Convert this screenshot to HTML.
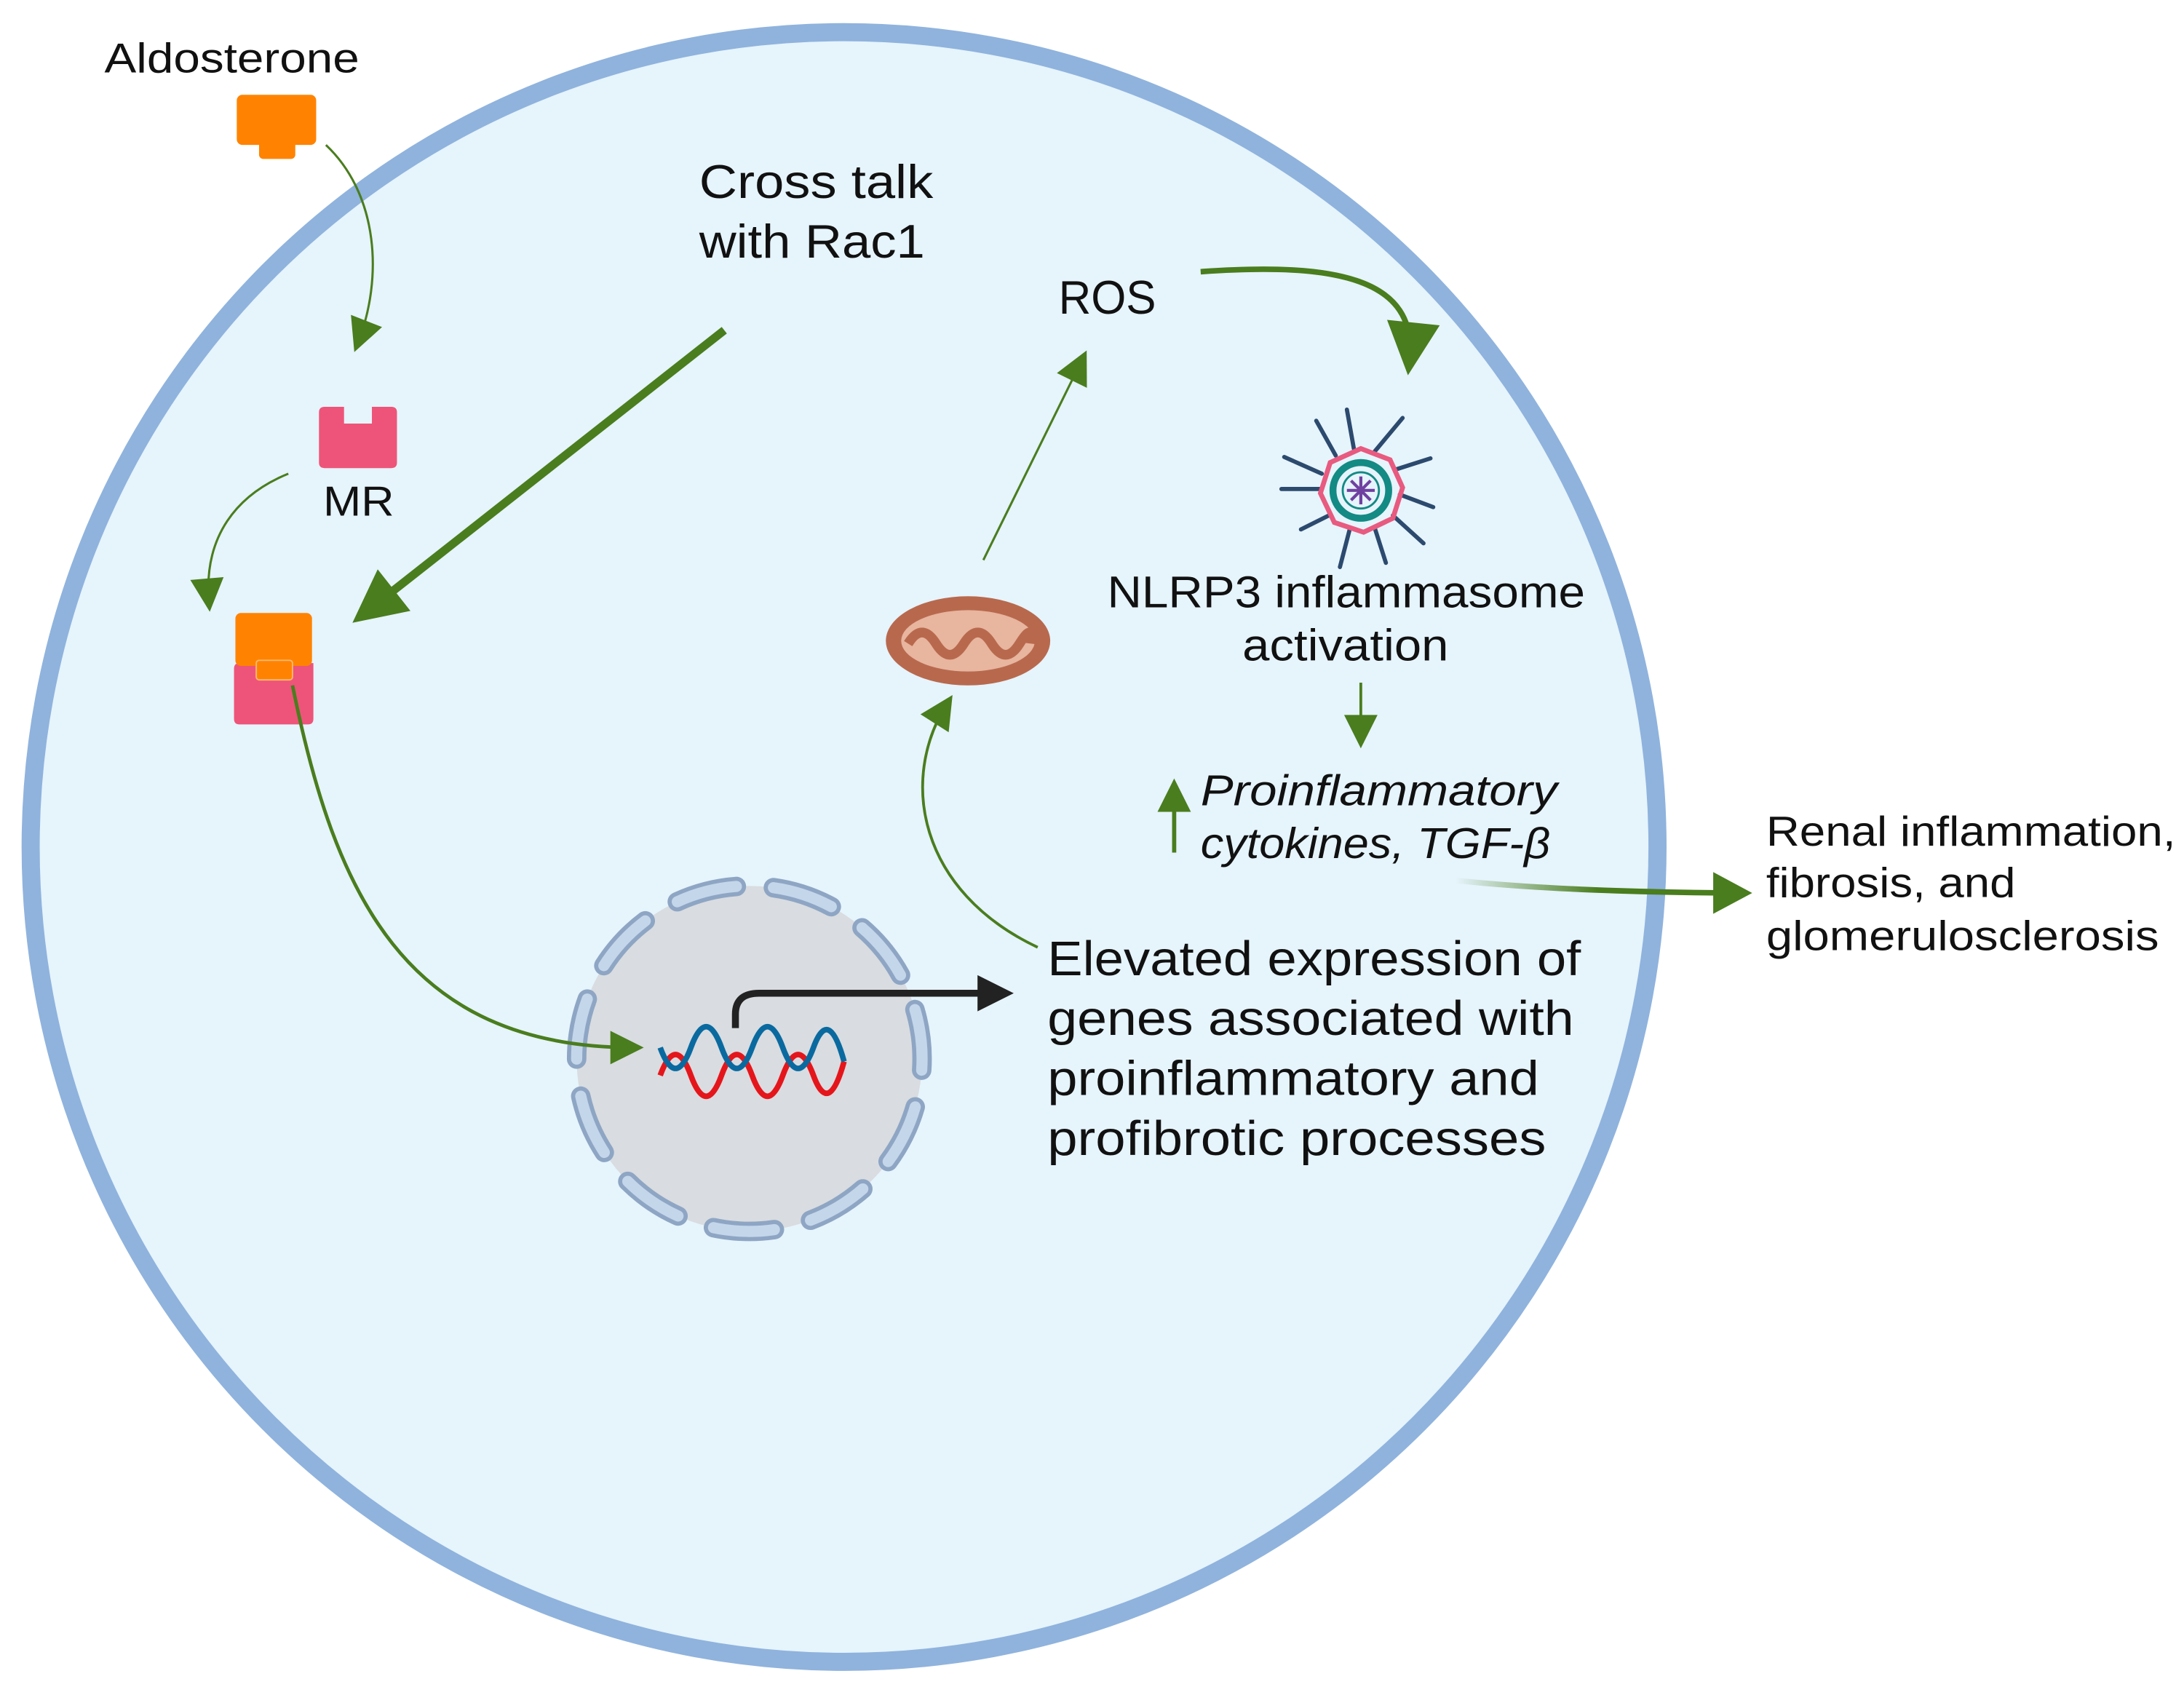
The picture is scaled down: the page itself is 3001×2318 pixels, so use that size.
<!DOCTYPE html>
<html><head><meta charset="utf-8"><style>
html,body{margin:0;padding:0;background:#fff}
svg{display:block}
text{font-family:"Liberation Sans",sans-serif;fill:#111}
</style></head><body>
<svg width="3001" height="2318" viewBox="0 0 1568 1211" xmlns="http://www.w3.org/2000/svg">
<defs>
<marker id="m22" viewBox="0 0 10 10" refX="7" refY="5" markerWidth="26" markerHeight="24" orient="auto" markerUnits="userSpaceOnUse"><path d="M0,0L10,5L0,10z" fill="#4a7d1e"/></marker>
<marker id="m40" viewBox="0 0 10 10" refX="7" refY="5" markerWidth="42" markerHeight="38" orient="auto" markerUnits="userSpaceOnUse"><path d="M0,0L10,5L0,10z" fill="#4a7d1e"/></marker>
<marker id="mb" viewBox="0 0 10 10" refX="7" refY="5" markerWidth="28" markerHeight="26" orient="auto" markerUnits="userSpaceOnUse"><path d="M0,0L10,5L0,10z" fill="#222"/></marker>
<linearGradient id="fade" x1="1045" y1="0" x2="1250" y2="0" gradientUnits="userSpaceOnUse"><stop offset="0" stop-color="#4a7d1e" stop-opacity="0"/><stop offset="0.5" stop-color="#4a7d1e"/></linearGradient>
</defs>
<rect width="1568" height="1211" fill="#fff"/>
<ellipse cx="606" cy="608" rx="584" ry="585" fill="#e6f4fc" stroke="#8fb3dd" stroke-width="13"/>

<text x="75" y="52" font-size="30" textLength="183" lengthAdjust="spacingAndGlyphs">Aldosterone</text>
<rect x="170" y="68" width="57" height="36" rx="4" fill="#ff8300"/>
<rect x="186" y="98" width="26" height="16" rx="3" fill="#ff8300"/>
<path d="M234,104 C272,140 275,200 257,246" fill="none" stroke="#4a7d1e" stroke-width="1.6" marker-end="url(#m22)"/>

<path d="M233,292 H247 V304 H267 V292 H281 Q285,292 285,296 V332 Q285,336 281,336 H233 Q229,336 229,332 V296 Q229,292 233,292z" fill="#ee5479"/>
<text x="232" y="370" font-size="30" textLength="51" lengthAdjust="spacingAndGlyphs">MR</text>
<path d="M207,340 C170,355 146,385 150,432" fill="none" stroke="#4a7d1e" stroke-width="1.6" marker-end="url(#m22)"/>

<path d="M172,476 H225 V516 Q225,520 221,520 H172 Q168,520 168,516 V480 Q168,476 172,476z" fill="#ee5479"/>
<rect x="169" y="440" width="55" height="38" rx="4" fill="#ff8300"/>
<rect x="184" y="474" width="26" height="14" rx="2" fill="#ff8300" stroke="#ffb870" stroke-width="1"/>

<text x="502" y="142" font-size="34" textLength="168" lengthAdjust="spacingAndGlyphs">Cross talk</text>
<text x="502" y="185" font-size="34" textLength="162" lengthAdjust="spacingAndGlyphs">with Rac1</text>
<line x1="520" y1="237" x2="262" y2="440" stroke="#4a7d1e" stroke-width="6" marker-end="url(#m40)"/>

<circle cx="538" cy="760" r="124" fill="#d9dce0"/>
<circle cx="538" cy="760" r="124" fill="none" stroke="#8ea6c4" stroke-width="14" stroke-dasharray="44 26.83" stroke-linecap="round" transform="rotate(-82 538 760)"/>
<circle cx="538" cy="760" r="124" fill="none" stroke="#c4d6ea" stroke-width="8" stroke-dasharray="44 26.83" stroke-linecap="round" transform="rotate(-82 538 760)"/>

<path d="M210,492 C240,640 290,752 455,752" fill="none" stroke="#4a7d1e" stroke-width="2.5" marker-end="url(#m22)"/>

<path d="M474,772 q11,-30 22,0 t22,0 t22,0 t22,0 t22,0 t22,-10" fill="none" stroke="#e5161b" stroke-width="4"/>
<path d="M474,752 q11,30 22,0 t22,0 t22,0 t22,0 t22,0 t22,10" fill="none" stroke="#0a6aa0" stroke-width="4"/>
<path d="M528,738 V728 Q528,713 545,713 H720" fill="none" stroke="#222" stroke-width="5" marker-end="url(#mb)"/>

<g font-size="35">
<text x="752" y="700" textLength="383" lengthAdjust="spacingAndGlyphs">Elevated expression of</text>
<text x="752" y="743" textLength="378" lengthAdjust="spacingAndGlyphs">genes associated with</text>
<text x="752" y="786" textLength="353" lengthAdjust="spacingAndGlyphs">proinflammatory and</text>
<text x="752" y="829" textLength="358" lengthAdjust="spacingAndGlyphs">profibrotic processes</text>
</g>

<path d="M745,680 C660,640 645,560 680,505" fill="none" stroke="#4a7d1e" stroke-width="2" marker-end="url(#m22)"/>
<ellipse cx="695" cy="460" rx="59" ry="32" fill="#b8694d"/>
<ellipse cx="695" cy="460" rx="48" ry="22" fill="#e8b59f"/>
<path d="M652,462 q10,-16 20,0 t20,0 t20,0 t20,0 t8,0" fill="none" stroke="#b8694d" stroke-width="7"/>
<line x1="706" y1="402" x2="777" y2="258" stroke="#4a7d1e" stroke-width="1.6" marker-end="url(#m22)"/>

<text x="760" y="225" font-size="34" textLength="70" lengthAdjust="spacingAndGlyphs">ROS</text>
<path d="M862,195 C960,188 1018,200 1012,258" fill="none" stroke="#4a7d1e" stroke-width="4" marker-end="url(#m40)"/>

<g transform="translate(977,352)" stroke="#2c4a6e" stroke-width="3" stroke-linecap="round">
<line x1="-5" y1="-30" x2="-10" y2="-58"/><line x1="10" y1="-28" x2="30" y2="-52"/><line x1="25" y1="-15" x2="50" y2="-23"/>
<line x1="28" y1="3" x2="52" y2="12"/><line x1="23" y1="18" x2="45" y2="38"/><line x1="10" y1="27" x2="18" y2="52"/>
<line x1="-8" y1="28" x2="-15" y2="55"/><line x1="-23" y1="18" x2="-43" y2="28"/><line x1="-28" y1="-1" x2="-57" y2="-1"/>
<line x1="-28" y1="-12" x2="-55" y2="-24"/><line x1="-18" y1="-25" x2="-32" y2="-50"/>
</g>
<polygon points="977,322 998,330 1007,350 1000,372 979,382 958,375 948,354 955,332" fill="none" stroke="#e85a7f" stroke-width="3.5"/>
<circle cx="977" cy="352" r="20" fill="#e6f4fc" stroke="#138a84" stroke-width="5"/>
<circle cx="977" cy="352" r="13" fill="#e6f4fc" stroke="#138a84" stroke-width="1.5"/>
<g stroke="#7040a0" stroke-width="2.2"><line x1="967" y1="352" x2="987" y2="352"/><line x1="977" y1="342" x2="977" y2="362"/><line x1="970" y1="345" x2="984" y2="359"/><line x1="984" y1="345" x2="970" y2="359"/></g>

<text x="795" y="436" font-size="32" textLength="343" lengthAdjust="spacingAndGlyphs">NLRP3 inflammasome</text>
<text x="892" y="474" font-size="32" textLength="148" lengthAdjust="spacingAndGlyphs">activation</text>
<line x1="977" y1="490" x2="977" y2="530" stroke="#4a7d1e" stroke-width="2" marker-end="url(#m22)"/>
<line x1="843" y1="612" x2="843" y2="566" stroke="#4a7d1e" stroke-width="3" marker-end="url(#m22)"/>
<text x="862" y="578" font-size="31" font-style="italic" textLength="256" lengthAdjust="spacingAndGlyphs">Proinflammatory</text>
<text x="862" y="616" font-size="31" font-style="italic" textLength="251" lengthAdjust="spacingAndGlyphs">cytokines, TGF-β</text>
<path d="M1045,632 Q1120,640 1240,641" fill="none" stroke="url(#fade)" stroke-width="4"/>
<path d="M1230,626 L1258,641 L1230,656z" fill="#4a7d1e"/>

<g font-size="30">
<text x="1268" y="607" textLength="294" lengthAdjust="spacingAndGlyphs">Renal inflammation,</text>
<text x="1268" y="644" textLength="179" lengthAdjust="spacingAndGlyphs">fibrosis, and</text>
<text x="1268" y="682" textLength="282" lengthAdjust="spacingAndGlyphs">glomerulosclerosis</text>
</g>
</svg>
</body></html>
